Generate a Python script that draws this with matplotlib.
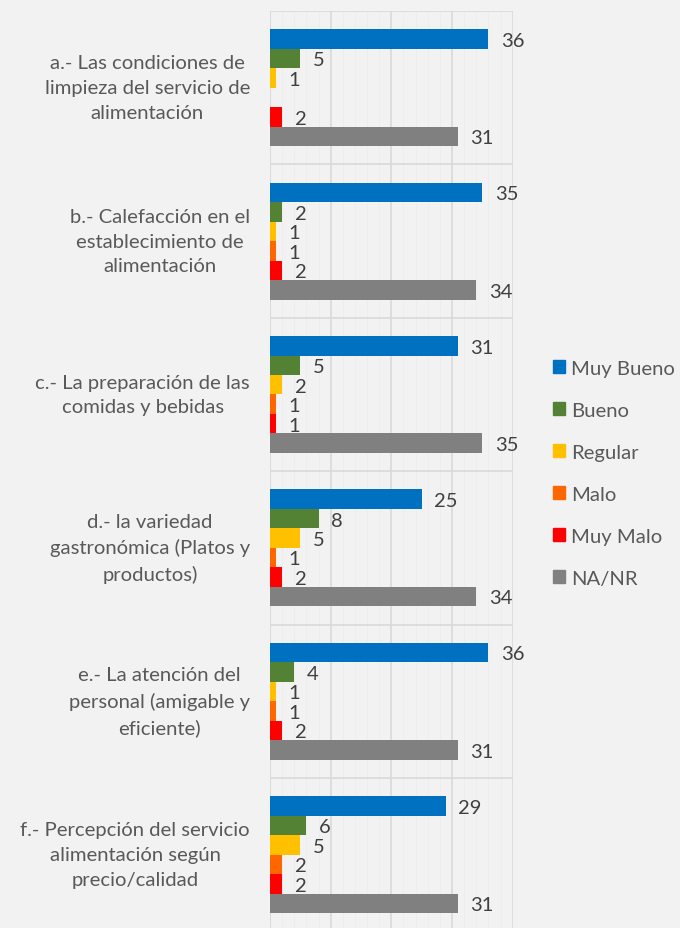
import numpy as np
import matplotlib
matplotlib.use('Agg')
import matplotlib.pyplot as plt
from matplotlib.patches import Patch
from matplotlib.transforms import blended_transform_factory

plt.rcParams['font.family'] = ['Lato', 'DejaVu Sans']

categories = ['a.- Las condiciones de\nlimpieza del servicio de\nalimentación',
              'b.- Calefacción en el\nestablecimiento de\nalimentación',
              'c.- La preparación de las\ncomidas y bebidas',
              'd.- la variedad\ngastronómica (Platos y\nproductos)',
              'e.- La atención del\npersonal (amigable y\neficiente)',
              'f.- Percepción del servicio\nalimentación según\nprecio/calidad']
series = ['Muy Bueno', 'Bueno', 'Regular', 'Malo', 'Muy Malo', 'NA/NR']
colors = ['#0070C0', '#548235', '#FFC000', '#FF6600', '#FF0000', '#808080']

muy_bueno = [36, 35, 31, 25, 36, 29]
bueno = [5, 2, 5, 8, 4, 6]
regular = [1, 1, 2, 5, 1, 5]
malo = [0, 1, 1, 1, 1, 2]
muy_malo = [2, 2, 1, 2, 2, 2]
na_nr = [31, 34, 35, 34, 31, 31]
values = [muy_bueno, bueno, regular, malo, muy_malo, na_nr]

bg = '#F2F2F2'
fig = plt.figure(figsize=(6.8, 9.29), dpi=100, facecolor=bg)
ax = fig.add_axes([0.397, -0.0035, 0.357, 0.9905])
ax.set_facecolor(bg)

n = len(categories)
bh = 0.127
y = np.arange(n)
for i, (name, vals, c) in enumerate(zip(series, values, colors)):
    pos = y + (i - 2.5) * bh
    bars = ax.barh(pos, vals, height=bh, color=c, label=name, zorder=3)
    for b, v in zip(bars, vals):
        if v == 0:
            continue
        ax.annotate(str(v), (v, b.get_y() + b.get_height() / 2),
                    xytext=(9, -1), textcoords='offset points',
                    ha='left', va='center', fontsize=14.5, color='#404040')

ax.set_xlim(0, 40)
ax.set_ylim(n - 0.5, -0.5)
ax.set_xticks(np.arange(0, 41, 10))
ax.set_xticks(np.arange(0, 41, 2), minor=True)
ax.set_yticks(np.arange(-0.5, n, 1.0))
ax.grid(axis='x', which='major', color='#D9D9D9', lw=1.2, zorder=0)
ax.grid(axis='x', which='minor', color='#EDEDED', lw=0.6, zorder=0)
ax.grid(axis='y', which='major', color='#D9D9D9', lw=1.2, zorder=0)
ax.tick_params(length=0, which='both', labelbottom=False, labelleft=False)
for s in ax.spines.values():
    s.set_visible(False)
ax.axvline(0, color='#D9D9D9', lw=1.2, zorder=1)

# category labels: block right-aligned, lines centred inside it
trans = blended_transform_factory(fig.transFigure, ax.transData)
for i, cat in enumerate(categories):
    fig.text(250 / 680, i, cat, transform=trans, ha='right', va='center',
             multialignment='center', fontsize=14.6, color='#595959',
             linespacing=1.56)

fig.legend(handles=[Patch(color=c, label=s) for s, c in zip(series, colors)],
           loc='upper left', bbox_to_anchor=(0.786, 0.631), frameon=False,
           fontsize=14.6, labelcolor='#595959', handlelength=0.6,
           handleheight=0.6, handletextpad=0.3, labelspacing=1.23)

fig.savefig('out.png', dpi=100, facecolor=bg)
